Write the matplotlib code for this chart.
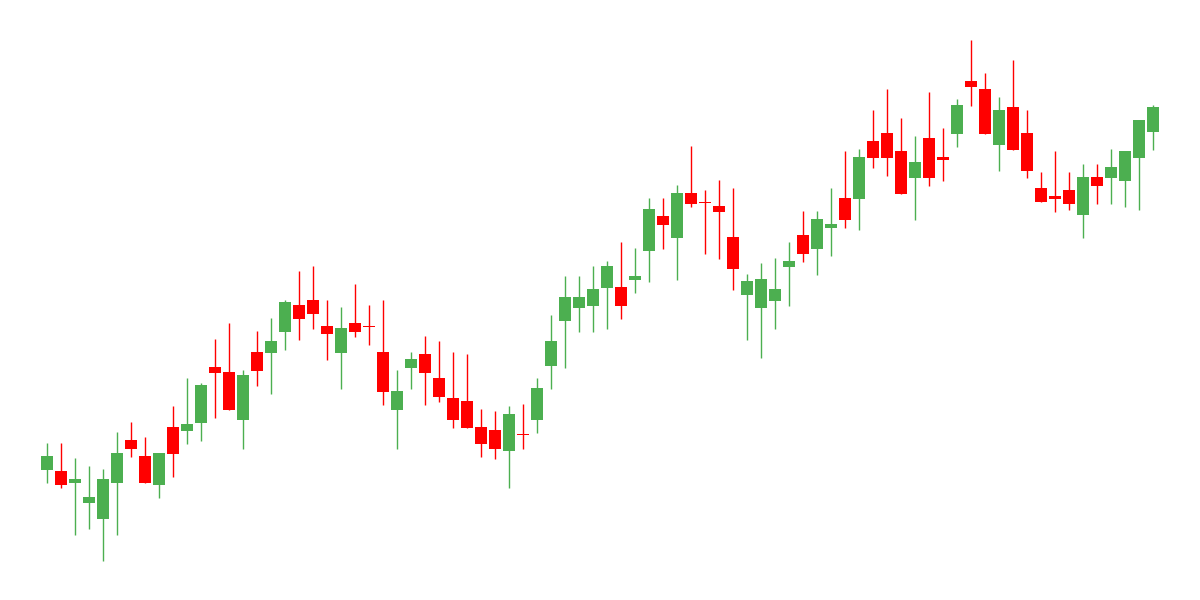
import matplotlib
matplotlib.use("Agg")
from matplotlib import pyplot as plt
import numpy as np

# ============== DONNÉES (prix) ==============

opens = [13.0, 12.9, 11.7, 9.7, 8.1, 11.7, 16.0, 14.4, 11.5, 17.3,
         16.9, 17.7, 23.3, 22.8, 18.0, 24.8, 24.7, 26.8, 29.5, 30.0,
         27.4, 24.7, 27.7, 27.4, 24.8, 19.0, 23.2, 24.6, 22.2, 20.2,
         19.9, 17.3, 17.0, 14.9, 16.5, 18.0, 23.4, 27.9, 29.2, 29.4,
         31.2, 31.3, 32.0, 34.9, 38.4, 36.2, 40.7, 39.7, 39.4, 36.3,
         30.5, 29.2, 29.9, 33.3, 36.5, 35.1, 37.2, 40.2, 40.1, 45.9,
         46.7, 44.9, 42.2, 46.2, 44.3, 46.6, 51.9, 51.1, 45.5, 49.3,
         46.7, 41.2, 40.4, 41.0, 38.5, 42.3, 42.2, 41.9, 44.2, 46.8]
closes = [14.4, 11.5, 12.1, 10.3, 12.1, 14.7, 15.1, 11.7, 14.7, 14.6,
          17.6, 21.5, 22.7, 19.0, 22.5, 22.9, 25.9, 29.8, 28.1, 28.6,
          26.6, 27.2, 26.8, 27.3, 20.8, 20.9, 24.1, 22.7, 20.3, 18.0,
          17.2, 15.6, 15.1, 18.6, 16.5, 21.2, 25.9, 30.3, 30.3, 31.1,
          33.4, 29.4, 32.4, 39.1, 37.5, 40.7, 39.6, 39.7, 38.8, 33.1,
          31.9, 32.1, 31.1, 33.9, 34.6, 38.1, 37.6, 38.0, 44.3, 44.2,
          44.2, 40.6, 43.8, 42.2, 44.0, 49.5, 51.3, 46.6, 49.0, 45.0,
          42.9, 39.8, 40.1, 39.6, 42.3, 41.4, 43.3, 44.9, 48.0, 49.3]
highs = [15.7, 15.7, 14.2, 13.4, 13.1, 16.8, 17.8, 16.3, 14.7, 19.4,
         22.2, 21.7, 26.1, 27.7, 23.0, 26.9, 28.2, 30.0, 32.9, 33.4,
         30.0, 29.3, 31.6, 29.5, 30.0, 23.0, 24.8, 26.4, 25.9, 24.8,
         24.6, 19.1, 18.9, 19.4, 19.6, 22.2, 28.5, 32.4, 32.4, 33.4,
         33.9, 35.8, 35.2, 40.2, 40.2, 41.5, 45.4, 41.0, 42.0, 41.2,
         32.6, 33.7, 34.2, 35.8, 38.9, 38.9, 41.2, 44.9, 45.1, 49.0,
         51.1, 48.2, 46.4, 50.8, 47.2, 50.1, 56.0, 52.7, 50.3, 54.0,
         49.0, 42.8, 44.9, 42.8, 43.6, 43.6, 45.1, 44.9, 48.0, 49.5]
lows = [11.7, 11.2, 6.5, 7.1, 3.9, 6.5, 14.3, 11.7, 10.2, 12.3,
        15.6, 15.9, 18.2, 19.0, 15.1, 21.4, 20.6, 25.0, 26.0, 27.1,
        24.0, 21.1, 26.3, 25.5, 19.5, 15.1, 21.1, 19.5, 19.8, 17.2,
        17.2, 14.3, 14.1, 11.2, 15.1, 16.7, 21.1, 23.2, 26.8, 26.8,
        27.1, 28.1, 30.7, 31.8, 35.1, 32.0, 39.3, 34.6, 34.1, 31.0,
        26.0, 24.2, 27.1, 29.4, 33.8, 32.5, 34.4, 37.2, 37.0, 43.2,
        42.4, 40.6, 38.0, 41.4, 41.9, 45.3, 49.4, 46.6, 42.9, 45.0,
        42.2, 39.8, 38.8, 39.0, 36.2, 39.6, 39.6, 39.3, 39.0, 45.0]

GREEN = '#4caf50'
RED = '#ff0000'

# ============== GRAPHIQUE ==============

def plot_candles(ax, width=0.8):
    """Bougies: corps + mèches"""
    n = len(opens)
    x = np.arange(n)
    o = np.array(opens)
    c = np.array(closes)
    colors = [GREEN if c[i] > o[i] else RED for i in range(n)]
    ax.vlines(x, lows, highs, colors=colors, linewidth=1.0, zorder=1)
    bottom = np.minimum(o, c)
    height = np.maximum(np.abs(c - o), 0.1)  # doji: trait fin
    ax.bar(x, height, width=width, bottom=bottom, color=colors, linewidth=0, zorder=2)
    return x


fig = plt.figure(figsize=(12, 6), dpi=100)
ax = fig.add_axes([0, 0, 1, 1])
plot_candles(ax)
ax.set_xlim(-47 / 14, -47 / 14 + 1200 / 14)
ax.set_ylim(0, 60)
ax.axis('off')
fig.savefig('out.png', dpi=100, facecolor='white')
